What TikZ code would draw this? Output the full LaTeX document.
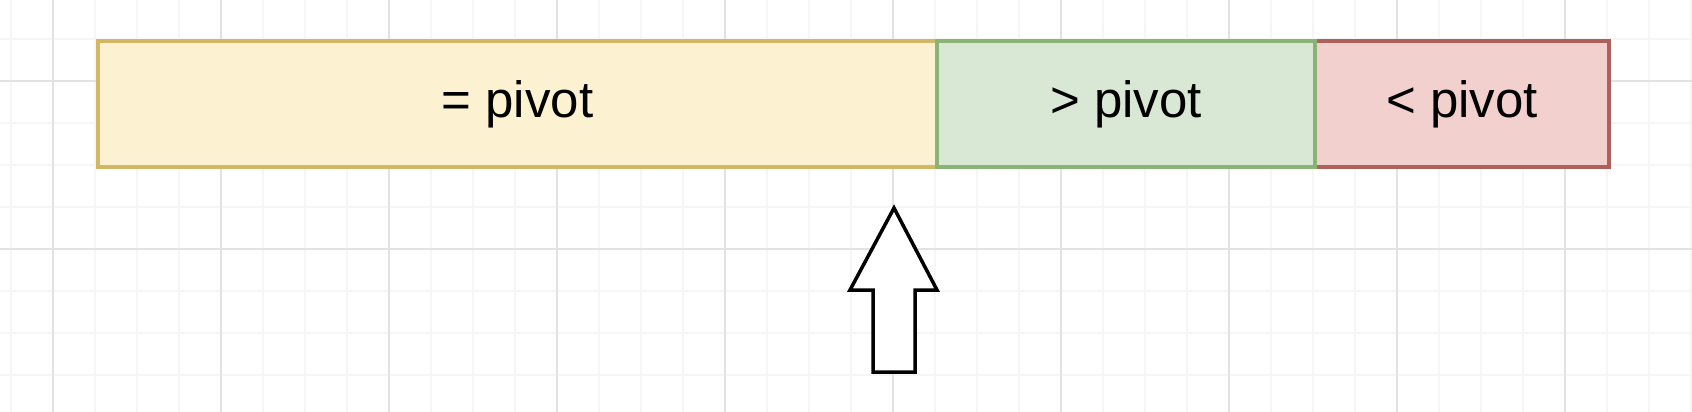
\documentclass[tikz,border=0pt]{standalone}
\usepackage{fontspec}
\setmainfont{Liberation Sans}
\definecolor{gridminor}{HTML}{F6F6F6}
\definecolor{gridmajor}{HTML}{E2E2E2}
\definecolor{yfill}{HTML}{FCF1D0}
\definecolor{ydraw}{HTML}{D4B765}
\definecolor{gfill}{HTML}{D9E7D5}
\definecolor{gdraw}{HTML}{8AB474}
\definecolor{rfill}{HTML}{F2D0CE}
\definecolor{rdraw}{HTML}{B0605A}
\tikzset{
  part/.style={rectangle, line width=4pt, minimum height=126pt, inner sep=0pt, anchor=north west,
    font=\fontsize{51}{60}\selectfont},
  minorline/.style={draw=gridminor, line width=1.5pt},
  majorline/.style={draw=gridmajor, line width=1.5pt},
  bigarrow/.style={draw=black, line width=3.5pt, fill=white, line join=miter}
}
\newcommand{\lowtext}[1]{\raisebox{-5pt}{#1}}
\begin{document}
\begin{tikzpicture}[x=1pt,y=-1pt]
\useasboundingbox[fill=white] (0,0) rectangle (1692,412);
% grid
\foreach \k in {0,...,40} { \draw[minorline] ({11+42*\k},0) -- ({11+42*\k},412); }
\foreach \k in {-1,...,9} { \draw[minorline] (0,{39+42*\k}) -- (1692,{39+42*\k}); }
\foreach \k in {0,...,9} { \draw[majorline] ({53+168*\k},0) -- ({53+168*\k},412); }
\foreach \y in {81,249} { \draw[majorline] (0,\y) -- (1692,\y); }
% boxes
\node[part, fill=yfill, draw=ydraw, minimum width=839pt] (eq) at (96,39) {\lowtext{= pivot}};
\node[part, fill=rfill, draw=rdraw, minimum width=294pt] (lt) at (1313,39) {\lowtext{< pivot}};
\node[part, fill=gfill, draw=gdraw, minimum width=378pt] (gt) at (935,39) {\lowtext{> pivot}};
% arrow
\draw[bigarrow] (894,208) -- (937,290) -- (915,290) -- (915,372) -- (873,372) -- (873,290) -- (850,290) -- cycle;
\end{tikzpicture}
\end{document}
